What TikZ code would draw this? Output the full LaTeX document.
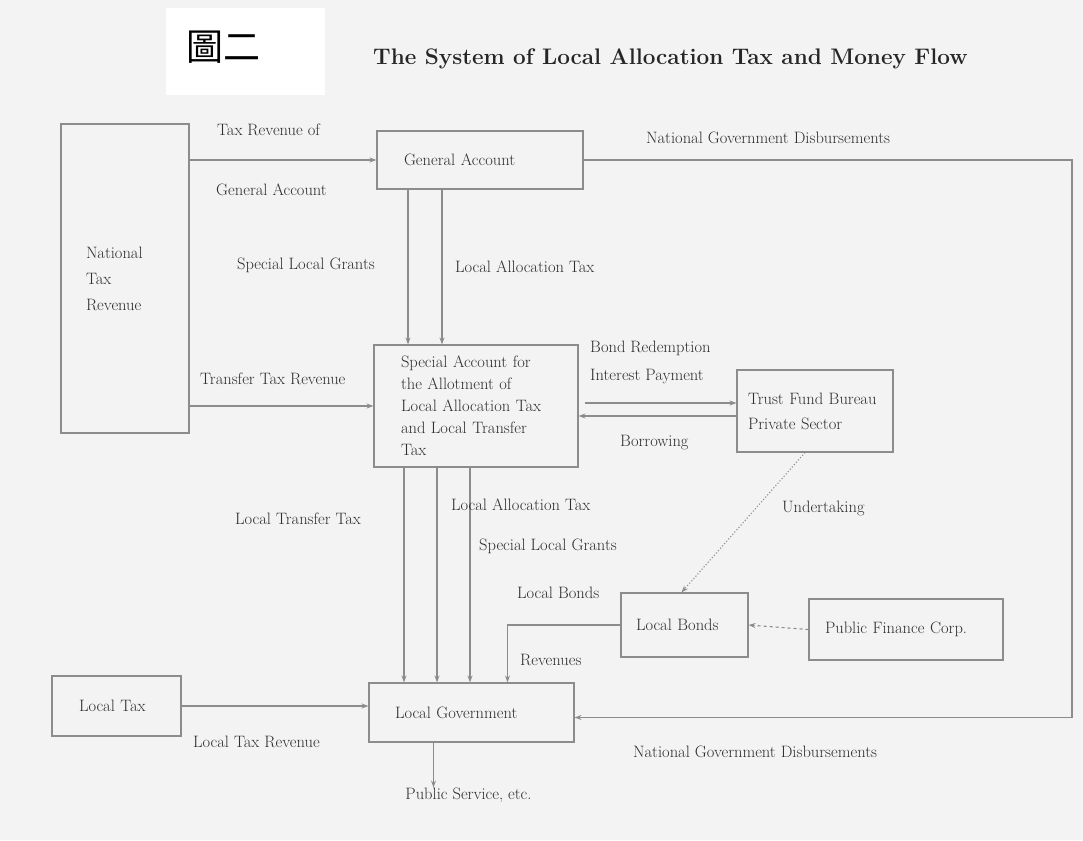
\documentclass[tikz,border=0pt]{standalone}
\usepackage{fontspec}
\newfontfamily\cjkfont{Noto Sans CJK TC}
\usepackage{tikz}
\usetikzlibrary{arrows.meta, positioning, backgrounds}
\definecolor{scangray}{HTML}{F3F3F3}
\definecolor{linegray}{HTML}{8C8C8C}
\definecolor{inkgray}{HTML}{2E2E2E}

\begin{document}
\begin{tikzpicture}[
    x=1pt, y=-1pt,
    block/.style = {rectangle, draw=linegray, line width=1.1pt, inner sep=0pt, align=left, text=inkgray, font=\fontsize{16.5}{22}\selectfont},
    flowtext/.style = {anchor=west, inner sep=0pt, align=left, text=inkgray, font=\fontsize{16.5}{28}\selectfont},
    arrow/.style = {draw=linegray, line width=1.1pt, ->, >={Stealth[length=7pt, width=5pt]}}
]
    % Page and heading
    \useasboundingbox[fill=scangray] (0,0) rectangle (1083,840);
    \fill[white] (166,8) rectangle (325,95);
    \node[inner sep=0pt, font=\cjkfont\fontsize{37}{40}\selectfont] (fig) at (223,47) {圖二};
    \node[inner sep=0pt, anchor=west, text=black!85, font=\fontsize{22.5}{26}\selectfont\bfseries] (title) at (373,59) {The System of Local Allocation Tax and Money Flow};

    % Accounts and bodies
    \node[block, minimum width=128pt, minimum height=309pt, text width=78pt, font=\fontsize{16.5}{26}\selectfont] (ntr) at (125,278.5) {National\\Tax\\Revenue};
    \node[block, minimum width=206pt, minimum height=58pt, text width=152pt] (ga) at (480,160) {General Account};
    \node[block, minimum width=204pt, minimum height=122pt, text width=150pt] (sa) at (476,406) {Special Account for\\the Allotment of\\Local Allocation Tax\\and Local Transfer\\Tax};
    \node[block, minimum width=156pt, minimum height=82pt, text width=134pt, font=\fontsize{16.5}{25}\selectfont] (tfb) at (815,411) {Trust Fund Bureau\\Private Sector};
    \node[block, minimum width=127pt, minimum height=64pt, text width=97pt] (lb) at (684.5,625) {Local Bonds};
    \node[block, minimum width=194pt, minimum height=61pt, text width=162pt] (pfc) at (906,629.5) {Public Finance Corp.};
    \node[block, minimum width=205pt, minimum height=59pt, text width=153pt] (lg) at (471.5,712.5) {Local Government};
    \node[block, minimum width=129pt, minimum height=60pt, text width=75pt] (lt) at (116.5,706) {Local Tax};
    \node[inner sep=0pt, text=inkgray, font=\fontsize{16.5}{22}\selectfont] (ps) at (468.5,795) {Public Service, etc.};
    \coordinate (edge) at (1072,0);
    \coordinate (sa-out) at ([xshift=6pt, yshift=3pt]sa.east);
    \coordinate (lg-in) at ([yshift=-5pt]lg.east);

    % Money flows
    \draw[arrow] (ntr.east |- ga.west) -- (ga.west);
    \draw[arrow] ([xshift=-72pt]ga.south) -- ([xshift=-72pt]ga.south |- sa.north);
    \draw[arrow] ([xshift=-38pt]ga.south) -- ([xshift=-38pt]ga.south |- sa.north);
    \draw[arrow] (ntr.east |- sa.west) -- (sa.west);
    \draw[arrow] (sa-out) -- (tfb.west |- sa-out);
    \draw[arrow] ([yshift=-5pt]tfb.west) -- ([yshift=-10pt]sa.east);
    \draw[arrow] ([xshift=-72pt]sa.south) -- ([xshift=-72pt]sa.south |- lg.north);
    \draw[arrow] ([xshift=-39pt]sa.south) -- ([xshift=-39pt]sa.south |- lg.north);
    \draw[arrow] ([xshift=-6pt]sa.south) -- ([xshift=-6pt]sa.south |- lg.north);
    \draw[arrow] (lb.west) -| ([xshift=36pt]lg.north);
    \draw[arrow, dotted] ([xshift=-10pt]tfb.south) -- ([xshift=-3pt]lb.north);
    \draw[arrow, dashed] (pfc.west) -- (lb.east);
    \draw[arrow] (lt.east) -- (lt.east -| lg.west);
    \draw[arrow] (ga.east) -- (ga.east -| edge) -- (edge |- lg-in) -- (lg-in);
    \draw[arrow] ([xshift=-38pt]lg.south) -- ([xshift=-38pt]lg.south |- ps.north);

    % Flow names
    \node[flowtext] (t1) at (217,130) {Tax Revenue of};
    \node[flowtext] (t2) at (216,190) {General Account};
    \node[flowtext] (t3) at (237,265) {Special Local Grants};
    \node[flowtext] (t4) at (455,267) {Local Allocation Tax};
    \node[flowtext] (t5) at (200,379) {Transfer Tax Revenue};
    \node[flowtext] (t6) at (646,138) {National Government Disbursements};
    \node[flowtext] (t7) at (590,362) {Bond Redemption\\Interest Payment};
    \node[flowtext] (t8) at (620,443) {Borrowing};
    \node[flowtext] (t9) at (782,508) {Undertaking};
    \node[flowtext] (t10) at (235,519) {Local Transfer Tax};
    \node[flowtext] (t11) at (451,505) {Local Allocation Tax};
    \node[flowtext] (t12) at (479,546) {Special Local Grants};
    \node[flowtext] (t13) at (517,593) {Local Bonds};
    \node[flowtext] (t14) at (520,660) {Revenues};
    \node[flowtext] (t15) at (193,742) {Local Tax Revenue};
    \node[flowtext] (t16) at (633,752) {National Government Disbursements};
\end{tikzpicture}
\end{document}
